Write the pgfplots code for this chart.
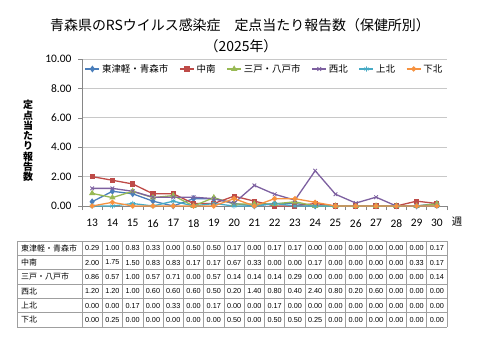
\documentclass[border=0pt]{standalone}
\usepackage{pgfplots}
\pgfplotsset{compat=1.18}
\usepackage{fontspec}
\setmainfont{Carlito}
\newfontfamily\jp{Noto Sans CJK JP}
\newfontfamily\tabfont{Liberation Sans}
\definecolor{cA}{HTML}{4A7EBB}
\definecolor{cB}{HTML}{BE4B48}
\definecolor{cC}{HTML}{98B954}
\definecolor{cD}{HTML}{7D60A0}
\definecolor{cE}{HTML}{46AAC5}
\definecolor{cF}{HTML}{F69240}
\definecolor{axisgray}{HTML}{868686}
\definecolor{gridgray}{HTML}{C8C8C8}
\begin{document}
\begin{tikzpicture}[x=1bp,y=1bp]
\path[use as bounding box] (0,0) rectangle (480,360);
\begin{axis}[
  at={(82bp,154bp)}, anchor=south west,
  scale only axis, width=365bp, height=147bp,
  xmin=12.5, xmax=30.5, ymin=0, ymax=10,
  xtick={13,...,30}, ytick={0,2,...,10},
  minor xtick={12.5,13.5,...,30.5},
  axis x line*=bottom, axis y line*=left,
  axis line style={axisgray, line width=0.8bp},
  tick align=outside, major tick length=4bp, minor tick length=4bp,
  major x tick style={draw=none},
  minor x tick style={axisgray, line width=0.6bp},
  y tick style={axisgray, line width=0.6bp},
  ymajorgrids, grid style={gridgray, line width=0.7bp},
  /pgf/number format/assume math mode=true,
  yticklabel style={/pgf/number format/fixed, /pgf/number format/fixed zerofill, /pgf/number format/precision=2, font=\fontsize{11.5}{12}\selectfont, xshift=-3bp},
  xticklabel style={font=\fontsize{11.5}{12}\selectfont, yshift=-6bp},
  legend style={draw=none, fill=none, at={(0.5,0.932)}, anchor=center,
    font=\jp\fontsize{9.5}{10}\selectfont, legend columns=6,
    /tikz/every even column/.append style={column sep=9bp}},
  legend image code/.code={\draw[mark repeat=2,mark phase=2] plot coordinates {(0bp,0bp) (7bp,0bp) (14bp,0bp)};},
  every axis plot/.append style={line width=1.3bp},
]
\addplot[cA, mark=diamond*, mark size=2.4bp, mark options={solid}] coordinates {
(13,0.29)(14,1.00)(15,0.83)(16,0.33)(17,0.00)(18,0.50)(19,0.50)(20,0.17)(21,0.00)(22,0.17)(23,0.17)(24,0.00)(25,0.00)(26,0.00)(27,0.00)(28,0.00)(29,0.00)(30,0.17)};
\addlegendentry{東津軽・青森市}
\addplot[cB, mark=square*, mark size=1.9bp, mark options={solid}] coordinates {
(13,2.00)(14,1.75)(15,1.50)(16,0.83)(17,0.83)(18,0.17)(19,0.17)(20,0.67)(21,0.33)(22,0.00)(23,0.00)(24,0.17)(25,0.00)(26,0.00)(27,0.00)(28,0.00)(29,0.33)(30,0.17)};
\addlegendentry{中南}
\addplot[cC, mark=triangle*, mark size=2.4bp, mark options={solid}] coordinates {
(13,0.86)(14,0.57)(15,1.00)(16,0.57)(17,0.71)(18,0.00)(19,0.57)(20,0.14)(21,0.14)(22,0.14)(23,0.29)(24,0.00)(25,0.00)(26,0.00)(27,0.00)(28,0.00)(29,0.00)(30,0.14)};
\addlegendentry{三戸・八戸市}
\addplot[cD, mark=x, mark size=2.6bp, mark options={solid, line width=0.8bp}] coordinates {
(13,1.20)(14,1.20)(15,1.00)(16,0.60)(17,0.60)(18,0.60)(19,0.50)(20,0.20)(21,1.40)(22,0.80)(23,0.40)(24,2.40)(25,0.80)(26,0.20)(27,0.60)(28,0.00)(29,0.00)(30,0.00)};
\addlegendentry{西北}
\addplot[cE, mark=asterisk, mark size=2.6bp, mark options={solid, line width=0.8bp}] coordinates {
(13,0.00)(14,0.00)(15,0.17)(16,0.00)(17,0.33)(18,0.00)(19,0.17)(20,0.00)(21,0.00)(22,0.17)(23,0.00)(24,0.00)(25,0.00)(26,0.00)(27,0.00)(28,0.00)(29,0.00)(30,0.00)};
\addlegendentry{上北}
\addplot[cF, mark=*, mark size=1.9bp, mark options={solid}] coordinates {
(13,0.00)(14,0.25)(15,0.00)(16,0.00)(17,0.00)(18,0.00)(19,0.00)(20,0.50)(21,0.00)(22,0.50)(23,0.50)(24,0.25)(25,0.00)(26,0.00)(27,0.00)(28,0.00)(29,0.00)(30,0.00)};
\addlegendentry{下北}
\end{axis}
% titles and labels
\node at (240,334.5) {\jp\fontsize{14}{16}\selectfont 青森県のRSウイルス感染症　定点当たり報告数（保健所別）};
\node at (241,314) {\jp\fontsize{14}{16}\selectfont （2025年）};
\node[align=center, font=\jp\bfseries\fontsize{10}{10.3}\selectfont] at (28,219) {定\\点\\当\\た\\り\\報\\告\\数};
\node at (457,138) {\jp\fontsize{10.5}{11}\selectfont 週};
% data table
\def\tl{17}\def\tx{82}\def\tr{447}\def\tt{119}\def\rh{14.333}\def\cw{20.2778}
\foreach \i in {0,...,6} \draw[gray!75, line width=0.6bp] (\tl,\tt-\i*\rh) -- (\tr,\tt-\i*\rh);
\draw[gray!75, line width=0.6bp] (\tl,\tt) -- (\tl,\tt-6*\rh);
\foreach \k in {0,...,18} \draw[gray!75, line width=0.6bp] (\tx+\k*\cw,\tt) -- (\tx+\k*\cw,\tt-6*\rh);
\foreach \n/\v [count=\r] in {
 東津軽・青森市/{0.29,1.00,0.83,0.33,0.00,0.50,0.50,0.17,0.00,0.17,0.17,0.00,0.00,0.00,0.00,0.00,0.00,0.17},
 中南/{2.00,1.75,1.50,0.83,0.83,0.17,0.17,0.67,0.33,0.00,0.00,0.17,0.00,0.00,0.00,0.00,0.33,0.17},
 三戸・八戸市/{0.86,0.57,1.00,0.57,0.71,0.00,0.57,0.14,0.14,0.14,0.29,0.00,0.00,0.00,0.00,0.00,0.00,0.14},
 西北/{1.20,1.20,1.00,0.60,0.60,0.60,0.50,0.20,1.40,0.80,0.40,2.40,0.80,0.20,0.60,0.00,0.00,0.00},
 上北/{0.00,0.00,0.17,0.00,0.33,0.00,0.17,0.00,0.00,0.17,0.00,0.00,0.00,0.00,0.00,0.00,0.00,0.00},
 下北/{0.00,0.25,0.00,0.00,0.00,0.00,0.00,0.50,0.00,0.50,0.50,0.25,0.00,0.00,0.00,0.00,0.00,0.00}} {
  \node[anchor=west, inner sep=0pt] at (\tl+4,\tt-\r*\rh+0.5*\rh) {\jp\fontsize{8}{9}\selectfont \n};
  \foreach \val [count=\c] in \v {
    \node[inner sep=0pt] at (\tx+\c*\cw-0.5*\cw,\tt-\r*\rh+0.5*\rh) {\tabfont\fontsize{7.3}{8}\selectfont \val};
  }
}
\end{tikzpicture}
\end{document}
